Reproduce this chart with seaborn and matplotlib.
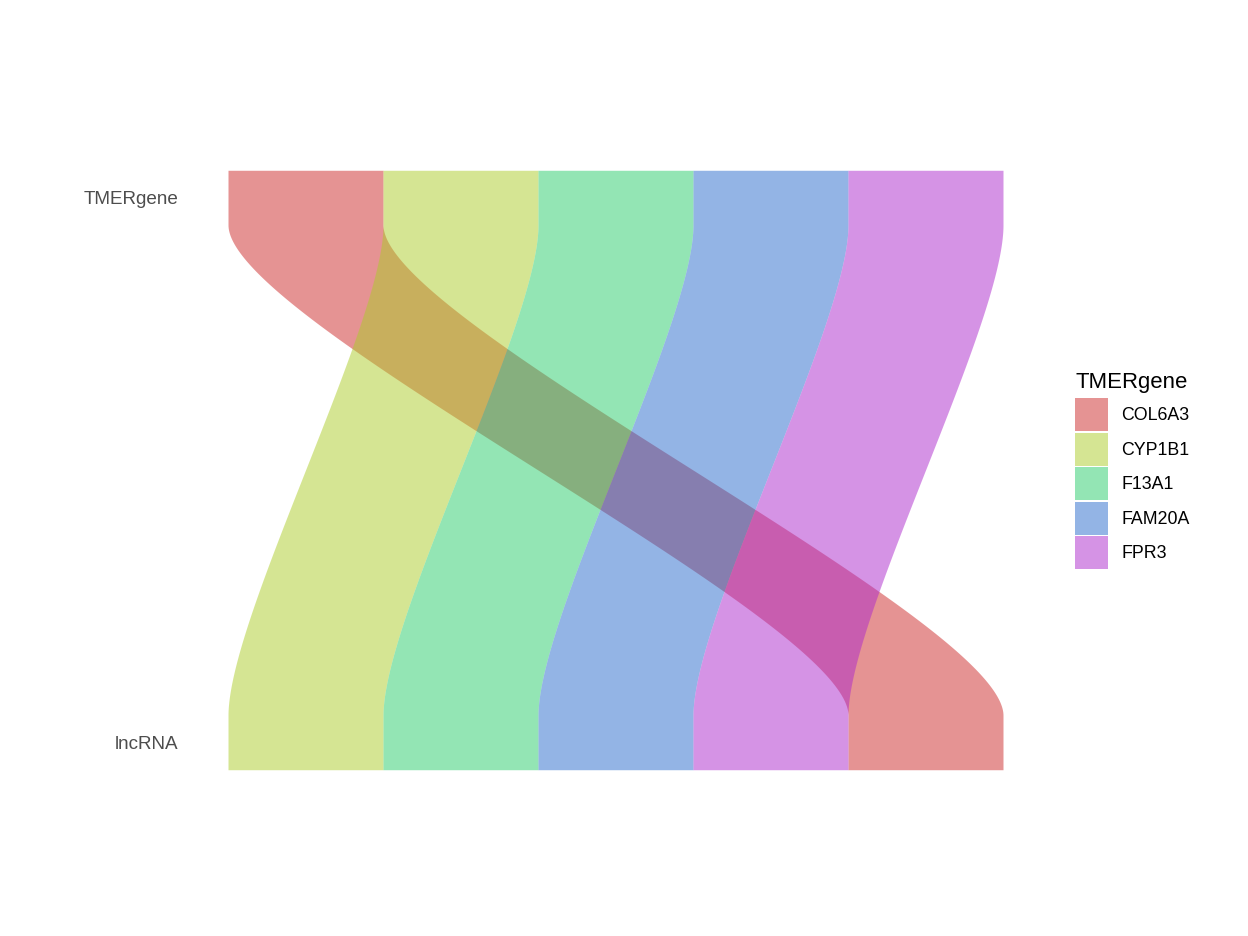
import numpy as np
import matplotlib
matplotlib.use("Agg")
import matplotlib.pyplot as plt
import seaborn as sns
from matplotlib.patches import Patch

# --- data: one alluvium per gene, each of weight 1 ---
genes = ["COL6A3", "CYP1B1", "F13A1", "FAM20A", "FPR3"]
counts = [1, 1, 1, 1, 1]
axis_labels = ["TMERgene", "lncRNA"]
# stacking order of each gene's lode on the lncRNA axis (0 = leftmost)
lncrna_order = [4, 0, 1, 2, 3]

palette = ["#CC2929", "#ADCC29", "#29CC6A", "#296ACC", "#AD29CC"]

sns.set_theme(style="white")
plt.rcParams["font.family"] = ["Liberation Sans", "DejaVu Sans"]

fig = plt.figure(figsize=(13, 9.75), dpi=96)
ax = fig.add_axes([228 / 1248, 166 / 936, 775 / 1248, 600 / 936])

width = 0.1      # stratum width (in axis units)
knot = 0.2       # knot position for the flow curve

# normalised flow curve (cubic Bezier): t = progress between axes, s = shift
u = np.linspace(0, 1, 300)
t = 3 * (1 - u) ** 2 * u * knot + 3 * (1 - u) * u ** 2 * (1 - knot) + u ** 3
s = 3 * u ** 2 - 2 * u ** 3

counts = np.array(counts, dtype=float)
top_start = np.concatenate([[0], np.cumsum(counts)[:-1]])
order_idx = np.argsort(lncrna_order)
bot_cum = np.concatenate([[0], np.cumsum(counts[order_idx])[:-1]])
bot_start = np.empty_like(bot_cum)
bot_start[order_idx] = bot_cum

y0, y1 = 1 + width / 2, 2 - width / 2
y_curve = y0 + (y1 - y0) * t

for i, gene in enumerate(genes):
    a0, a1 = top_start[i], top_start[i] + counts[i]
    b0, b1 = bot_start[i], bot_start[i] + counts[i]
    xl = a0 + (b0 - a0) * s
    xr = a1 + (b1 - a1) * s
    y = np.concatenate([[1 - width / 2], y_curve, [2 + width / 2]])
    left = np.concatenate([[a0], xl, [b0]])
    right = np.concatenate([[a1], xr, [b1]])
    ax.fill_betweenx(y, left, right, color=palette[i], alpha=0.5,
                     linewidth=0, label=gene)

ax.set_xlim(0, counts.sum())
ax.set_ylim(2 + width / 2 + 0.0005, 1 - width / 2 - 0.0005)
ax.set_yticks([1, 2])
ax.set_yticklabels(axis_labels)
ax.set_xticks([])
ax.tick_params(axis="y", length=0, pad=37, labelsize=14.2, labelcolor="#4D4D4D")
for side in ax.spines.values():
    side.set_visible(False)
ax.grid(False)

handles = [Patch(facecolor=palette[i], alpha=0.5, edgecolor="none", label=g)
           for i, g in enumerate(genes)]
leg = fig.legend(handles=handles, title="TMERgene", loc="upper left",
                 bbox_to_anchor=(1075 / 1248, 1 - 372 / 936), frameon=False,
                 fontsize=13.3, title_fontsize=16.6, handlelength=1.86,
                 handleheight=2.49, labelspacing=0.08, handletextpad=0.75,
                 borderpad=0, borderaxespad=0, labelcolor="black")
leg.get_title().set_color("black")
leg._legend_box.align = "left"
leg._legend_box.sep = 4

fig.savefig("out.png", dpi=96)
